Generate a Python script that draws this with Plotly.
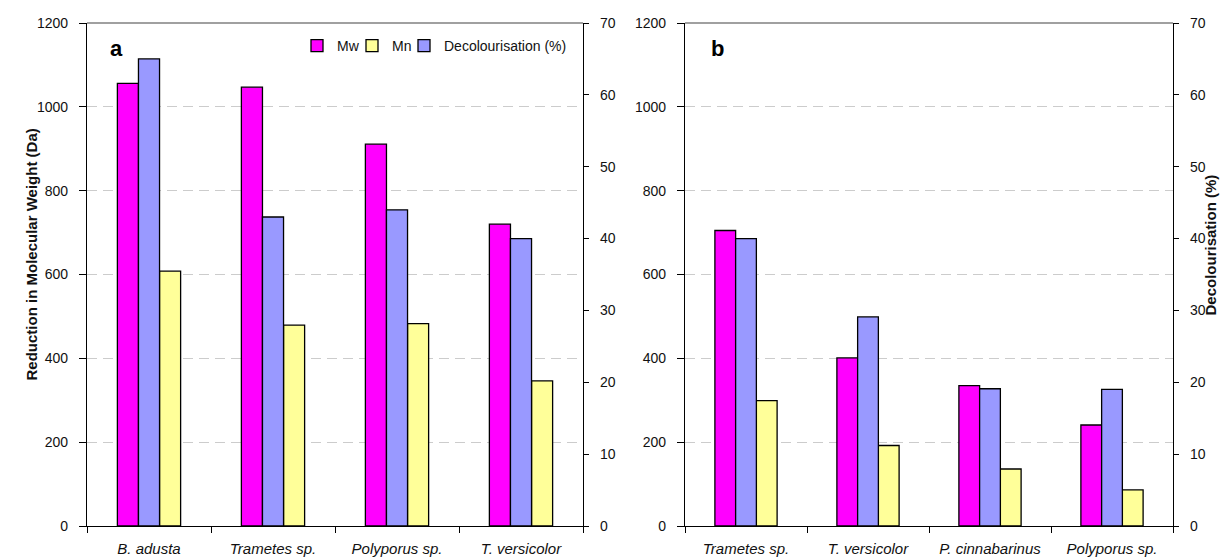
import plotly.graph_objects as go

# Fungal strains per panel
strains_a = ["B. adusta", "Trametes sp.", "Polyporus sp.", "T. versicolor"]
strains_b = ["Trametes sp.", "T. versicolor", "P. cinnabarinus", "Polyporus sp."]

# Reduction in molecular weight (Da)
mw_a = [1056, 1047, 911, 720]
mn_a = [608, 479, 483, 346]
mw_b = [705, 401, 335, 241]
mn_b = [299, 192, 136, 86]

# Decolourisation (%)
decol_a = [65.0, 43.0, 44.0, 40.0]
decol_b = [40.0, 29.1, 19.1, 19.0]

mw_ticks = [0, 200, 400, 600, 800, 1000, 1200]
pct_ticks = [0, 10, 20, 30, 40, 50, 60, 70]

C_MW = "#FF00FF"
C_MN = "#FFFF99"
C_DEC = "#9999FF"
FONT = "Liberation Sans, Arial, sans-serif"
BW = 0.17
OFF = [-0.255, -0.085, 0.085]

fig = go.Figure()


def add_panel(strains, mw, mn, dec, xa, ya_left, ya_right, show_legend):
    line = dict(color="#000000", width=1.3)
    fig.add_trace(go.Bar(name="Mw", x=strains, y=mw, xaxis=xa, yaxis=ya_left,
                         marker=dict(color=C_MW, line=line), width=BW, offset=OFF[0],
                         legendrank=1, legendwidth=10, showlegend=show_legend))
    fig.add_trace(go.Bar(name="Decolourisation (%)", x=strains, y=dec, xaxis=xa, yaxis=ya_right,
                         marker=dict(color=C_DEC, line=line), width=BW, offset=OFF[1],
                         legendrank=3, showlegend=show_legend))
    fig.add_trace(go.Bar(name="Mn", x=strains, y=mn, xaxis=xa, yaxis=ya_left,
                         marker=dict(color=C_MN, line=line), width=BW, offset=OFF[2],
                         legendrank=2, legendwidth=7, showlegend=show_legend))


add_panel(strains_a, mw_a, mn_a, decol_a, "x", "y", "y2", True)
add_panel(strains_b, mw_b, mn_b, decol_b, "x2", "y3", "y4", False)

Y_DOM = [1 - 526 / 559, 1 - 23 / 559]
XA_DOM = [87 / 1230, 583 / 1230]
XB_DOM = [685 / 1230, 1173 / 1230]

tick_font = dict(family=FONT, size=14, color="#111111")

xcommon = dict(type="category", showgrid=False, showline=True, linecolor="#000000",
               linewidth=1.3, ticks="outside", tickson="boundaries", ticklen=6,
               tickcolor="#000000", tickwidth=1.2, automargin=False, fixedrange=True,
               ticklabelstandoff=9,
               tickfont=dict(family=FONT, size=15, color="#111111", style="italic"))

left_common = dict(range=[0, 1200], tickvals=mw_ticks, showline=True, linecolor="#000000",
                   linewidth=1.3, ticks="outside", ticklen=7, tickcolor="#000000",
                   tickwidth=1.2, showgrid=True, gridcolor="#CCCCCC", gridwidth=1.2,
                   griddash="10px,6px", zeroline=False, automargin=False,
                   tickfont=tick_font, ticklabelstandoff=8, domain=Y_DOM)

right_common = dict(range=[0, 70], tickvals=pct_ticks, showline=True, linecolor="#000000",
                    linewidth=1.3, ticks="outside", ticklen=5, tickcolor="#000000",
                    tickwidth=1.2, showgrid=False, zeroline=False, automargin=False,
                    tickfont=tick_font, ticklabelstandoff=8, side="right")

# Inner halves of the crossing ticks on the right-hand axes
inner_common = dict(range=[0, 70], tickvals=pct_ticks, showline=False, ticks="inside",
                    ticklen=7, tickcolor="#000000", tickwidth=1.2, showgrid=False,
                    zeroline=False, showticklabels=False, automargin=False, side="right")

fig.update_layout(
    width=1230, height=559,
    margin=dict(l=0, r=0, t=0, b=0),
    paper_bgcolor="white", plot_bgcolor="white",
    barmode="overlay",
    font=dict(family=FONT, size=14, color="#111111"),
    xaxis=dict(domain=XA_DOM, anchor="y", **xcommon),
    xaxis2=dict(domain=XB_DOM, anchor="y3", **xcommon),
    yaxis=dict(anchor="x", **left_common),
    yaxis2=dict(anchor="x", overlaying="y", **right_common),
    yaxis3=dict(anchor="x2", **left_common),
    yaxis4=dict(anchor="x2", overlaying="y3", **right_common),
    yaxis5=dict(anchor="x", overlaying="y", **inner_common),
    yaxis6=dict(anchor="x2", overlaying="y3", **inner_common),
    legend=dict(orientation="h", x=297 / 1230, xanchor="left", y=1 - 30 / 559, yanchor="top",
                font=dict(family=FONT, size=14, color="#111111"), bgcolor="rgba(0,0,0,0)",
                traceorder="normal", itemwidth=30, tracegroupgap=0),
    showlegend=True,
)

# Plot-area top borders
for xd in ("x domain", "x2 domain"):
    ya = "y domain" if xd == "x domain" else "y3 domain"
    fig.add_shape(type="line", xref=xd, yref=ya, x0=0, x1=1, y0=1, y1=1,
                  line=dict(color="#808080", width=1.3))

# Panel letters
fig.add_annotation(text="<b>a</b>", xref="x domain", yref="y domain", x=0.043, y=0.978,
                   xanchor="left", yanchor="top", showarrow=False,
                   font=dict(family=FONT, size=22, color="#000000"))
fig.add_annotation(text="<b>b</b>", xref="x2 domain", yref="y3 domain", x=0.05, y=0.978,
                   xanchor="left", yanchor="top", showarrow=False,
                   font=dict(family=FONT, size=22, color="#000000"))

# Axis titles
fig.add_annotation(text="<b>Reduction in Molecular Weight (Da)</b>", xref="paper", yref="paper",
                   x=20 / 1230, y=1 - 255 / 559, textangle=-90, showarrow=False,
                   font=dict(family=FONT, size=15, color="#111111"))
fig.add_annotation(text="<b>Decolourisation (%)</b>", xref="paper", yref="paper",
                   x=1220 / 1230, y=1 - 245 / 559, textangle=-90, showarrow=False,
                   font=dict(family=FONT, size=15, color="#111111"))

fig.write_html("out.html")
